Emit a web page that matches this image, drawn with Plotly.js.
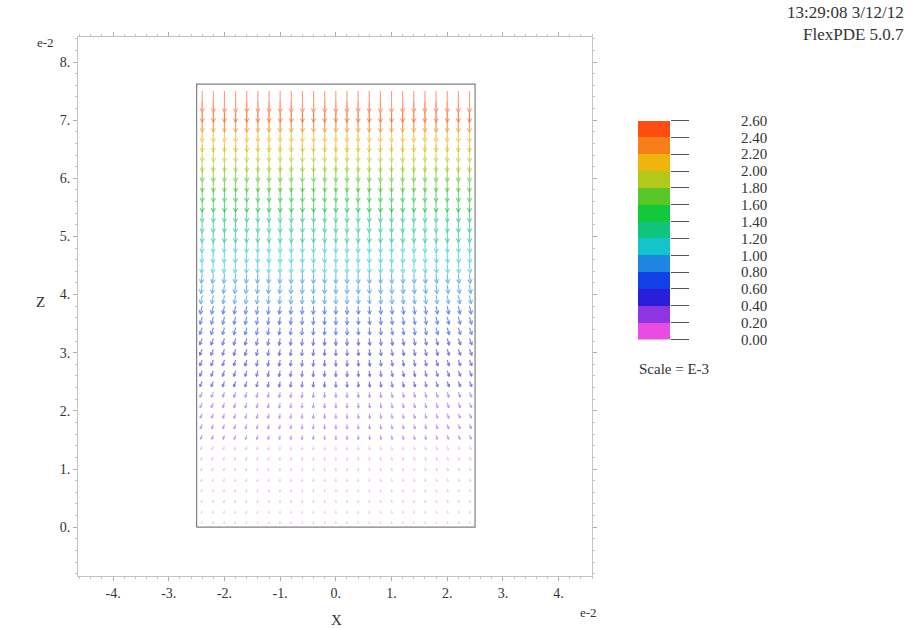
<!DOCTYPE html>
<html>
<head>
<meta charset="utf-8">
<script src="https://cdn.plot.ly/plotly-3.0.1.min.js"></script>
<style>html,body{margin:0;padding:0;background:#fff;}#chart{width:914px;height:629px;}</style>
</head>
<body>
<div id="chart"></div>
<script>
// ---- data ----
// grid columns (x, units of e-2)
const xCols = [-2.4,-2.2,-2.0,-1.8,-1.6,-1.4,-1.2,-1.0,-0.8,-0.6,-0.4,-0.2,0.0,0.2,0.4,0.6,0.8,1.0,1.2,1.4,1.6,1.8,2.0,2.2,2.4];
// outward lean of each column (fraction)
const colTilt = [-1.0,-0.92,-0.83,-0.75,-0.67,-0.58,-0.5,-0.42,-0.33,-0.25,-0.17,-0.08,0.0,0.08,0.17,0.25,0.33,0.42,0.5,0.58,0.67,0.75,0.83,0.92,1.0];
// grid rows (z, units of e-2)
const zRows = [0.10,0.285,0.47,0.655,0.84,1.025,1.21,1.395,1.58,1.765,1.95,2.135,2.32,2.505,2.69,2.875,3.06,3.245,3.43,3.615,3.80,3.985,4.17,4.355,4.54,4.725,4.91,5.095,5.28,5.465,5.65,5.835,6.02,6.205,6.39,6.575,6.76,6.945,7.13,7.315,7.50];
// vector magnitude per row (units of E-3)
const magRows = [0.01,0.03,0.05,0.07,0.10,0.13,0.16,0.19,0.23,0.27,0.30,0.34,0.38,0.42,0.46,0.50,0.54,0.59,0.64,0.69,0.75,0.81,0.87,0.93,1.00,1.07,1.14,1.22,1.30,1.38,1.46,1.55,1.64,1.74,1.84,1.95,2.06,2.17,2.29,2.41,2.53];
// sideways lean per row
const tiltRows = [0.30,0.30,0.32,0.34,0.36,0.38,0.40,0.42,0.44,0.45,0.45,0.45,0.45,0.44,0.43,0.42,0.40,0.38,0.35,0.30,0.25,0.20,0.15,0.10,0.07,0.05,0.03,0.02,0.01,0.01,0,0,0,0,0,0,0,0,0,0,0];
// domain outline
const domainX = [-2.5, 2.5, 2.5, -2.5, -2.5];
const domainZ = [0, 0, 7.62, 7.62, 0];
// colour scale
const bandLow = [0.0,0.2,0.4,0.6,0.8,1.0,1.2,1.4,1.6,1.8,2.0,2.2,2.4];
const bandColors = ['#E84CE0','#8E34E0','#2A1EDA','#1040E6','#1C86E0','#12C4CC','#10C47E','#12C83A','#58C626','#B4C81A','#F0B40E','#F77E18','#FF4C12'];
const scaleTicks = [0.0,0.2,0.4,0.6,0.8,1.0,1.2,1.4,1.6,1.8,2.0,2.2,2.4,2.6];
const xTickVals = [-4,-3,-2,-1,0,1,2,3,4];
const xTickText = ['-4.','-3.','-2.','-1.','0.','1.','2.','3.','4.'];
const yTickVals = [0,1,2,3,4,5,6,7,8];
const yTickText = ['0.','1.','2.','3.','4.','5.','6.','7.','8.'];

// ---- layout constants ----
const W = 914, H = 629;
const M = {l:78, r:100, t:37, b:53};
const xRange = [-4.63, 4.60], yRange = [-0.84, 8.43];
const plotW = W - M.l - M.r, plotH = H - M.t - M.b;
const mainW = 592 - M.l;
const pxX = mainW / (xRange[1]-xRange[0]);
const pxY = plotH / (yRange[1]-yRange[0]);

// ---- build arrows grouped by colour band ----
const groups = bandColors.map(() => ({x:[], y:[]}));
for (let j = 0; j < zRows.length; j++) {
  const m = magRows[j];
  let b = Math.floor(m / 0.2); if (b > 12) b = 12; if (b < 0) b = 0;
  const L = 2.5 + 7.5 * m;               // px
  for (let i = 0; i < xCols.length; i++) {
    const tx = colTilt[i] * tiltRows[j];
    const n = Math.sqrt(tx*tx + 1);
    const dx = tx / n, dy = -1 / n;      // pixel-space direction (y up)
    const x0 = xCols[i], y0 = zRows[j];
    const x1 = x0 + L*dx/pxX, y1 = y0 + L*dy/pxY;
    const h = Math.min(4.5, 0.5*L);
    const a = 28*Math.PI/180;
    const bx = -dx, by = -dy;
    const w1x = bx*Math.cos(a) - by*Math.sin(a), w1y = bx*Math.sin(a) + by*Math.cos(a);
    const w2x = bx*Math.cos(-a) - by*Math.sin(-a), w2y = bx*Math.sin(-a) + by*Math.cos(-a);
    const g = groups[b];
    g.x.push(x0, x1, null, x1 + h*w1x/pxX, x1, x1 + h*w2x/pxX, null);
    g.y.push(y0, y1, null, y1 + h*w1y/pxY, y1, y1 + h*w2y/pxY, null);
  }
}

const bandOpacity = [0.3,0.5,0.6,0.6,0.6,0.6,0.65,0.65,0.65,0.6,0.6,0.55,0.55];
const traces = [];
traces.push({type:'scatter', mode:'lines', x:domainX, y:domainZ, line:{color:'#808080', width:1.2}, hoverinfo:'skip', showlegend:false});
groups.forEach((g, k) => {
  traces.push({type:'scatter', mode:'lines', x:g.x, y:g.y, line:{color:bandColors[k], width:1.1}, opacity:bandOpacity[k], hoverinfo:'skip', showlegend:false});
});
// colour scale bar
traces.push({type:'bar', x:bandLow.map(() => 0), y:bandLow.map(() => 0.2), base:bandLow, width:1,
  marker:{color:bandColors, line:{width:0}}, xaxis:'x2', yaxis:'y2', hoverinfo:'skip', showlegend:false});
traces.push({type:'scatter', mode:'markers', x:[0], y:[0], marker:{opacity:0}, xaxis:'x2', yaxis:'y3', hoverinfo:'skip', showlegend:false});

const fontSerif = 'Liberation Serif, Times New Roman, serif';
const tickFont = {family:fontSerif, size:14, color:'#333333'};
const axisBase = {showgrid:false, zeroline:false, showline:true, linecolor:'#c4c4c4', linewidth:1, color:'#333333',
  mirror:'allticks', ticks:'outside', ticklen:4, tickcolor:'#b0b0b0', tickfont:tickFont,
  minor:{dtick:0.2, ticks:'outside', ticklen:2, tickcolor:'#c4c4c4'}};

const px2x = p => (p - M.l) / plotW;
const px2y = p => (H - M.b - p) / plotH;
const ann = (text, px, py, size, xa) => ({text:text, xref:'paper', yref:'paper', x:px2x(px), y:px2y(py),
  xanchor:xa || 'center', yanchor:'middle', showarrow:false, align:'right', font:{family:fontSerif, size:size, color:'#333333'}});

const layout = {
  width:W, height:H, margin:M, paper_bgcolor:'#fff', plot_bgcolor:'#fff', showlegend:false,
  bargap:0,
  xaxis: Object.assign({}, axisBase, {domain:[0, mainW/plotW], range:xRange, tickmode:'array', tickvals:xTickVals, ticktext:xTickText, anchor:'y'}),
  yaxis: Object.assign({}, axisBase, {domain:[0,1], range:yRange, tickmode:'array', tickvals:yTickVals, ticktext:yTickText, anchor:'x'}),
  xaxis2: {domain:[px2x(638), px2x(670)], range:[-0.5,0.5], visible:false, anchor:'y2', fixedrange:true},
  yaxis2: {domain:[px2y(339.5), px2y(120.5)], range:[0,2.6], anchor:'x2', side:'right', showgrid:false, zeroline:false,
    showline:false, ticks:'outside', ticklen:18, tickcolor:'#555', tickwidth:1, tickmode:'array', tickvals:scaleTicks, showticklabels:false},
  yaxis3: {overlaying:'y2', range:[0,2.6], anchor:'free', position:px2x(740), side:'right', showgrid:false, zeroline:false,
    showline:false, ticks:'', tickmode:'array', tickvals:scaleTicks, tickformat:'.2f', color:'#333333',
    tickfont:{family:fontSerif, size:15, color:'#333333'}},
  annotations: [
    ann('e-2', 45, 43, 13),
    ann('e-2', 588, 612, 13),
    ann('Z', 40, 302, 15),
    ann('X', 336, 620, 15),
    ann('13:29:08 3/12/12', 906, 13, 17, 'right'),
    ann('FlexPDE 5.0.7', 906, 34, 17, 'right'),
    ann('Scale = E-3', 637, 369, 15, 'left')
  ]
};

Plotly.newPlot('chart', traces, layout, {staticPlot:true, displayModeBar:false});
</script>
</body>
</html>
